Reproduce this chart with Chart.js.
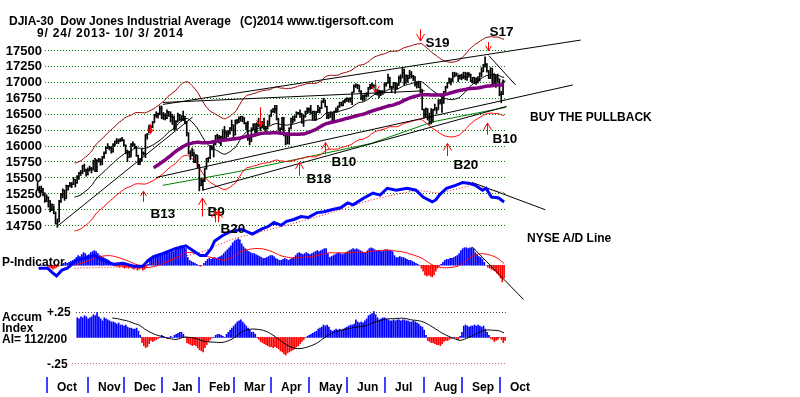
<!DOCTYPE html>
<html lang="en">

<head>
    <meta charset="UTF-8">
    <title>DJIA-30 Dow Jones Industrial Average</title>
    <script src="https://cdn.jsdelivr.net/npm/chart.js"></script>
    <style>
        body {
            margin: 0;
            background: #fff;
        }

        #wrap {
            position: relative;
            width: 800px;
            height: 397px;
            overflow: hidden;
            font-family: "Liberation Sans", Arial, sans-serif;
            font-weight: bold;
            color: #000;
        }

        #chart {
            position: absolute;
            left: 0;
            top: 0;
        }

        .t {
            position: absolute;
            white-space: pre;
            font-size: 12px;
            line-height: 12px;
        }
    </style>
</head>

<body>
    <div id="wrap">
        <canvas id="chart" width="800" height="397"></canvas>
        <div class="t" style="left:9px;top:15px">DJIA-30  Dow Jones Industrial Average</div>
        <div class="t" style="left:240px;top:15px">(C)2014 www.tigersoft.com</div>
        <div class="t" style="left:37px;top:27px;letter-spacing:0.8px">9/ 24/ 2013- 10/ 3/ 2014</div>
        <div class="t" style="left:530px;top:111px">BUY THE PULLBACK</div>
        <div class="t" style="left:527px;top:232px">NYSE A/D Line</div>
        <div class="t" style="left:2px;top:256px">P-Indicator</div>
        <div class="t" style="left:2px;top:311px">Accum</div>
        <div class="t" style="left:2px;top:322px">Index</div>
        <div class="t" style="left:2px;top:333px">AI= 112/200</div>
    </div>

    <script>
        // trading days 9/24/2013 .. 10/3/2014, index 0..259
        const monthNames = ["Oct", "Nov", "Dec", "Jan", "Feb", "Mar", "Apr", "May", "Jun", "Jul", "Aug", "Sep", "Oct"];
        const monthStart = [5, 28, 48, 69, 90, 109, 130, 151, 172, 193, 215, 236, 257];
        const priceTicks = [17500, 17250, 17000, 16750, 16500, 16250, 16000, 15750, 15500, 15250, 15000, 14750];

        const closes = [
            15334, 15273, 15329, 15258, 15130,
            15192, 15134, 14997, 15073, 14936, 14776, 14803, 15126, 15237, 15301, 15168, 15374, 15372, 15400, 15392, 15468, 15413, 15509, 15570, 15568, 15680, 15618, 15546,
            15616, 15639, 15618, 15747, 15594, 15762, 15784, 15751, 15822, 15876, 15962, 15976, 15968, 15900, 16010, 16065, 16073, 16073, 16097, 16086,
            16008, 15915, 15890, 15821, 16020, 16026, 15973, 15844, 15740, 15755, 15885, 15875, 16168, 16179, 16221, 16295, 16358, 16479, 16479, 16505, 16577,
            16441, 16470, 16425, 16531, 16463, 16445, 16437, 16257, 16374, 16482, 16418, 16459, 16415, 16374, 16198, 15879, 15838, 15929, 15739, 15849, 15699,
            15373, 15445, 15441, 15629, 15795, 15801, 15994, 15964, 16027, 16154, 16130, 16041, 16134, 16104, 16208, 16180, 16199, 16273, 16322,
            16168, 16396, 16361, 16422, 16453, 16419, 16351, 16340, 16109, 16066, 16247, 16337, 16223, 16331, 16303, 16276, 16368, 16268, 16264, 16324, 16458,
            16533, 16573, 16573, 16413, 16246, 16257, 16438, 16171, 16027, 16174, 16263, 16425, 16409, 16449, 16514, 16501, 16502, 16361, 16448, 16535, 16581,
            16559, 16513, 16531, 16402, 16518, 16551, 16584, 16696, 16715, 16614, 16447, 16492, 16511, 16375, 16533, 16544, 16607, 16676, 16634, 16699, 16717,
            16743, 16722, 16738, 16836, 16924, 16944, 16946, 16844, 16735, 16776, 16782, 16808, 16907, 16922, 16948, 16938, 16819, 16868, 16847, 16852, 16827,
            16956, 16976, 17068, 16924, 16906, 16985, 16915, 16944, 17055, 17061, 17139, 16977, 17100, 17052, 17114, 17087, 17083, 16961, 16983, 16913, 16880, 16563,
            16493, 16569, 16430, 16443, 16369, 16554, 16569, 16561, 16652, 16713, 16663, 16839, 16920, 16979, 17040, 17001, 17077, 17107, 17122, 17080, 17098,
            17068, 17079, 17070, 17138, 17112, 17014, 17068, 17050, 16988, 17031, 17132, 17157, 17266, 17280, 17173, 17056, 17210, 16946, 17113, 17071, 17043,
            16805, 16801, 17009
        ];
        const highs = [
            15425, 15360, 15365, 15330, 15250,
            15230, 15190, 15135, 15085, 15055, 14960, 14850, 15140, 15250, 15320, 15300, 15380, 15378, 15425, 15420, 15500, 15465, 15530, 15580, 15610, 15690, 15710, 15630,
            15650, 15680, 15660, 15770, 15800, 15780, 15800, 15790, 15830, 15900, 15980, 16030, 15990, 15980, 16030, 16070, 16110, 16100, 16110, 16130,
            16090, 16005, 15930, 15910, 16030, 16060, 16020, 15990, 15850, 15800, 15950, 15900, 16170, 16190, 16320, 16310, 16380, 16490, 16530, 16510, 16620,
            16620, 16520, 16500, 16560, 16530, 16530, 16490, 16460, 16390, 16510, 16490, 16470, 16540, 16460, 16370, 16200, 15920, 15960, 15900, 15860, 15840,
            15700, 15480, 15480, 15650, 15800, 15815, 16000, 15990, 16040, 16160, 16180, 16160, 16150, 16250, 16300, 16230, 16240, 16280, 16400,
            16320, 16400, 16410, 16450, 16460, 16460, 16440, 16360, 16380, 16160, 16280, 16340, 16340, 16360, 16430, 16330, 16380, 16430, 16300, 16390, 16480,
            16560, 16580, 16630, 16630, 16430, 16280, 16440, 16440, 16170, 16200, 16280, 16430, 16460, 16470, 16530, 16520, 16560, 16500, 16480, 16540, 16590,
            16590, 16630, 16540, 16540, 16540, 16630, 16600, 16700, 16740, 16710, 16610, 16500, 16530, 16510, 16540, 16590, 16620, 16680, 16680, 16700, 16730,
            16750, 16740, 16750, 16840, 16950, 16970, 16960, 16940, 16860, 16790, 16800, 16830, 16910, 16960, 16980, 16950, 16950, 16880, 16860, 16860, 16860,
            16980, 16990, 17120, 17070, 16930, 16990, 16980, 16980, 17090, 17110, 17220, 17200, 17110, 17100, 17180, 17160, 17100, 17070, 17000, 17010, 17000, 16870,
            16570, 16590, 16580, 16510, 16580, 16570, 16650, 16600, 16720, 16720, 16810, 16850, 16930, 16990, 17060, 17050, 17150, 17150, 17140, 17100, 17110,
            17120, 17150, 17150, 17140, 17140, 17120, 17070, 17060, 17060, 17080, 17140, 17220, 17270, 17390, 17280, 17170, 17220, 17200, 17130, 17090, 17120,
            17040, 16850, 17030
        ];
        const lows = [
            15310, 15260, 15270, 15210, 15110,
            15120, 15035, 14960, 14980, 14930, 14770, 14719, 14810, 15110, 15180, 15140, 15180, 15300, 15350, 15340, 15390, 15350, 15410, 15470, 15530, 15560, 15590, 15520,
            15540, 15600, 15570, 15620, 15590, 15590, 15740, 15690, 15700, 15800, 15880, 15950, 15930, 15880, 15900, 15990, 16030, 16030, 16060, 16070,
            15990, 15870, 15750, 15810, 15830, 15990, 15950, 15830, 15700, 15700, 15760, 15850, 15810, 16100, 16200, 16210, 16280, 16360, 16440, 16430, 16480,
            16420, 16410, 16400, 16420, 16460, 16370, 16330, 16240, 16260, 16370, 16390, 16380, 16390, 16340, 16150, 15870, 15780, 15840, 15730, 15740, 15650,
            15290, 15370, 15300, 15440, 15640, 15740, 15800, 15930, 15820, 16010, 16100, 16040, 16000, 16100, 16100, 16110, 16140, 16180, 16230,
            16110, 16170, 16340, 16360, 16380, 16370, 16340, 16250, 16080, 16010, 16070, 16250, 16150, 16200, 16300, 16230, 16280, 16250, 16190, 16260, 16330,
            16460, 16520, 16510, 16400, 16240, 16170, 16250, 16150, 16010, 16030, 16020, 16270, 16350, 16380, 16440, 16490, 16440, 16350, 16300, 16450, 16500,
            16510, 16490, 16400, 16400, 16400, 16520, 16510, 16580, 16670, 16600, 16420, 16420, 16440, 16360, 16380, 16520, 16530, 16600, 16620, 16620, 16670,
            16690, 16680, 16680, 16640, 16840, 16910, 16890, 16840, 16720, 16700, 16710, 16760, 16770, 16880, 16890, 16910, 16800, 16790, 16750, 16780, 16800,
            16830, 16930, 16980, 16900, 16830, 16910, 16820, 16880, 16950, 16990, 17070, 16950, 16980, 16990, 17060, 17060, 17020, 16930, 16900, 16910, 16830, 16560,
            16430, 16450, 16400, 16330, 16340, 16380, 16560, 16500, 16570, 16660, 16520, 16670, 16840, 16900, 16980, 16950, 17010, 17080, 17090, 17000, 17040,
            17030, 17050, 17030, 17020, 17070, 17000, 16980, 16970, 16960, 16980, 17010, 17080, 17160, 17230, 17150, 17050, 17050, 16940, 16940, 16910, 16990,
            16780, 16670, 16800
        ];

        // 200-day average
        const ma200Days = [69, 108, 152, 185, 219, 260];
        const ma200Vals = [15376, 15575, 15835, 16033, 16370, 16599];

        // NYSE A/D line (relative units) and its dotted average
        const adDays = [0, 5, 8, 10, 13, 16, 21, 25, 31, 36, 42, 47, 53, 58, 61, 64, 69, 76, 82, 86, 90, 93, 96, 98, 102, 106, 113, 119, 124, 128, 131, 135, 138, 142, 146, 150, 155, 159, 163, 168, 172, 175, 181, 186, 190, 194, 199, 205, 210, 214, 219, 221, 223, 227, 232, 236, 240, 243, 247, 249, 252, 256, 259];
        const adVals = [0, 0, -5, -8, -2, 0, 8, 10, 13, 8, 4, 5, 2, 2, 8, 12, 15, 20, 23, 18, 13, 13, 20, 28, 33, 37, 40, 35, 40, 43, 47, 44, 48, 50, 53, 52, 57, 58, 60, 62, 67, 65, 72, 77, 75, 82, 80, 82, 80, 73, 68, 70, 75, 82, 85, 88, 87, 85, 80, 82, 73, 72, 68];
        const adMaDays = [20, 58, 69, 90, 108, 144, 163, 185, 210, 223, 241, 260];
        const adMaVals = [0, 2, 7, 16, 30, 47, 57, 70, 80, 77, 85, 77];

        const pIndicator = [
            0, 0, 0, 0, 0, -10, -20, -30, -40, -30, -20, -10, 0, 10, 20, 30, 20, 30, 40, 50,
            60, 80, 100, 90, 110, 130, 120, 100, 110, 130,
            140, 150, 140, 120, 100, 90, 80, 70, 60, 50,
            30, 10, 0, -10, -10, -20, -10, -20, -30, -20,
            -30, -20, -30, -40, -30, -50, -40, -30, -50, -40,
            -20, 10, 50, 60, 80, 90, 100, 110, 120, 110,
            120, 130, 140, 130, 150, 140, 150, 160, 170, 200,
            180, 190, 170, 80, 50, 40, 30, 20, 10, 0,
            -10, 0, 20, 40, 60, 70, 60, 70, 80, 70,
            80, 90, 100, 120, 140, 160, 180, 200, 230, 250,
            260, 270, 260, 220, 190, 170, 150, 140, 130, 120,
            120, 110, 100, 90, 80, 70, 70, 80, 90, 100,
            100, 90, 70, 60, 50, 50, 60, 70, 60, 50,
            60, 70, 80, 100, 120, 130, 120, 110, 120, 130,
            120, 110, 120, 130, 140, 150, 140, 150, 160, 170,
            170, 120, 80, 90, 100, 110, 120, 130, 120, 110,
            120, 130, 140, 150, 160, 170, 160, 170, 160, 150,
            140, 130, 130, 150, 170, 180, 170, 160, 150, 150,
            150, 140, 150, 160, 160, 150, 150, 140, 100, 80,
            80, 90, 80, 80, 70, 60, 50, 50, 40, 30,
            20, 10, 0, -30, -60, -100, -110, -100, -110, -120,
            -100, -60, -30, -10, 10, 30, 50, 60, 60, 70,
            70, 80, 90, 100, 120, 150, 170, 180, 180, 170,
            180, 180, 170, 130, 110, 90, 80, 60, 30, 0,
            -20, -30, -40, -50, -60, -80, -100, -130, -170, -130
        ];

        // accumulation index in hundredths (+25 = +.25)
        const accum = [
            null, null, null, null, null, null, null, null, null, null, null, null, null, null, null, null, null, null, null, null, null,
            19, 18, 20, 19, 21, 20, 18, 19, 20, 22,
            21, 24, 20, 18, 16, 19, 18, 17, 16, 15,
            15, 14, 13, 14, 12, 12, 11, 12, 10, 9,
            9, 8, 8, 9, 6, 2, -5, -8, -10, -9,
            -6, -3, -4, -3, -2, -1, 0, 2, 1, 0,
            -1, 0, 1, 0, 2, 3, 4, 5, 5, 3,
            0, -5, -6, -7, -8, -7, -8, -10, -12, -13,
            -14, -10, -7, -4, -2, 0, 0, 2, 3, 3,
            2, 1, 0, 3, 5, 7, 9, 11, 13, 15,
            16, 17, 15, 13, 11, 9, 7, 5, 5, 3,
            0, -2, -4, -5, -6, -7, -8, -9, -9, -10,
            -9, -10, -11, -13, -14, -16, -17, -15, -14, -13,
            -12, -11, -9, -8, -6, -4, -2, 0, 1, 2,
            3, 4, 5, 6, 8, 9, 10, 12, 11, 12,
            10, 7, 6, 7, 8, 7, 8, 7, 8, 9,
            10, 11, 12, 12, 13, 17, 15, 14, 15, 14,
            16, 18, 21, 22, 23, 25, 22, 19, 17, 18,
            19, 19, 18, 17, 16, 16, 17, 16, 17, 17,
            16, 17, 17, 16, 16, 15, 15, 16, 15, 14,
            13, 11, 10, 7, 2, -3, -4, -5, -5, -6,
            -7, -7, -8, -6, -4, -3, -3, -2, -1, 0,
            0, -1, -2, 1, 5, 11, 12, 11, 10, 11,
            11, 12, 11, 12, 11, 10, 11, 8, 5, 2,
            -1, -2, -4, -3, -2, 0, -2, -5, -3
        ];

        // trend lines: [day1, price1, day2, price2]
        const priceLines = [
            [69.2, 16645, 301.6, 17653],
            [69.2, 16675, 214.8, 16858],
            [10.4, 14735, 85.7, 16446],
            [91.2, 15300, 260.4, 16614],
            [65.4, 15499, 297.3, 16950],
            [250.5, 17409, 265.4, 16950]
        ];
        const adTrend = [241.2, 88, 281.9, 60];
        const pTrend = [241.2, 190, 269.8, -350];

        // signals: name, day, arrow tail price, arrow head price
        const sigNames = ["B13", "B9", "", "B20", "B18", "B10", "B20", "B10", "S19", "S17", "", "", ""];
        const sigDays = [58, 91, 98, 100, 145, 159.3, 227, 249.5, 212, 250, 62, 123, 187.4];
        const sigFrom = [15117, 14888, 14796, 14796, 15529, 15865, 15835, 16171, 17821, 17622, 16339, 16599, 17027];
        const sigTo = [15285, 15178, 14979, 14979, 15743, 16049, 16033, 16354, 17638, 17485, 16186, 16293, 16828];
        const sigLabelOffset = [[7, 11], [5, -5], [0, 0], [2, 6], [7, 3], [6, 7], [6, 8], [5, 4], [5, 13], [1, -11], [0, 0], [0, 0], [0, 0]];

        const BLUE = "#0000ff";
        const RED = "#ff0000";
        const FONT = '"Liberation Sans", Arial, sans-serif';

        function sma(values, n) {
            const out = [];
            for (let i = 0; i < values.length; i++) {
                let sum = 0, ok = i >= n - 1;
                for (let k = i - n + 1; ok && k <= i; k++) {
                    if (values[k] == null) ok = false;
                    else sum += values[k];
                }
                out.push(ok ? sum / n : null);
            }
            return out;
        }

        const daily = arr => arr.map((v, i) => ({ x: i, y: v }));
        const sparse = (ds, vs) => ds.map((d, i) => ({ x: d, y: vs[i] }));

        const ma21 = sma(closes, 21);
        const ma65 = sma(closes, 65);
        const upperBand = ma21.map(v => v == null ? null : v * 1.035);
        const lowerBand = ma21.map(v => v == null ? null : v * 0.965);
        const pMa = sma(pIndicator, 21);
        const accumMa = sma(accum, 21);

        function line(data, color, width, axis, order, dash) {
            return {
                type: "line", data: data, borderColor: color, borderWidth: width,
                borderDash: dash || [], pointRadius: 0, fill: false, tension: 0,
                yAxisID: axis, order: order
            };
        }

        const datasets = [
            {
                type: "bar", label: "P-Indicator", data: daily(pIndicator), yAxisID: "yp",
                backgroundColor: pIndicator.map(v => v < 0 ? RED : BLUE), barThickness: 1, order: 20
            },
            {
                type: "bar", label: "Accum", data: daily(accum), yAxisID: "ya",
                backgroundColor: accum.map(v => v < 0 ? RED : BLUE), barThickness: 1, order: 20
            },
            line(daily(pMa), RED, 1, "yp", 19),
            line(daily(accumMa), "#000", 1, "ya", 19),
            line(sparse([pTrend[0], pTrend[2]], [pTrend[1], pTrend[3]]), "#000", 1, "yp", 19),
            line(sparse(adMaDays, adMaVals), RED, 1, "yad", 18, [1, 2]),
            line(sparse(adDays, adVals), BLUE, 3, "yad", 17),
            line(sparse([adTrend[0], adTrend[2]], [adTrend[1], adTrend[3]]), "#000", 1, "yad", 17),
            line(daily(upperBand), "#990000", 1, "y", 16),
            line(daily(lowerBand), RED, 1, "y", 16),
            line(sparse(ma200Days, ma200Vals), "#008000", 1, "y", 16),
            ...priceLines.map(l => line(sparse([l[0], l[2]], [l[1], l[3]]), "#000", 1, "y", 15)),
            line(daily(ma21), "#000", 1, "y", 14),
            {
                type: "bar", label: "DJIA", data: closes.map((c, i) => ({ x: i, y: [lows[i], highs[i]] })),
                yAxisID: "y", backgroundColor: "#000", barThickness: 1, order: 12
            },
            {
                type: "line", label: "Close", data: daily(closes), yAxisID: "y", showLine: false,
                pointStyle: "line", pointRadius: 1.5, borderColor: "#000", borderWidth: 1, order: 12
            },
            line(daily(ma65), "#800080", 3.5, "y", 10)
        ];

        function arrow(ctx, x, y1, y2) {
            const dir = y2 > y1 ? 1 : -1;
            const len = Math.abs(y2 - y1);
            const w = len > 11 ? 4 : 3, h = len > 11 ? 7 : 5;
            ctx.beginPath();
            ctx.moveTo(x, y1);
            ctx.lineTo(x, y2);
            ctx.moveTo(x - w, y2 - dir * h);
            ctx.lineTo(x, y2);
            ctx.lineTo(x + w, y2 - dir * h);
            ctx.stroke();
        }

        const decorations = {
            id: "decorations",
            beforeDatasetsDraw(chart) {
                const { ctx, scales } = chart;
                const x = scales.x, y = scales.y, ya = scales.ya;
                const right = x.getPixelForValue(260);
                ctx.save();
                ctx.lineWidth = 1;
                ctx.setLineDash([1, 2]);
                ctx.strokeStyle = "#008000";
                priceTicks.forEach(v => {
                    const py = Math.round(y.getPixelForValue(v)) + 0.5;
                    ctx.beginPath();
                    ctx.moveTo(45, py);
                    ctx.lineTo(right, py);
                    ctx.stroke();
                });
                ctx.strokeStyle = "#404040";
                let py = Math.round(ya.getPixelForValue(25)) + 0.5;
                ctx.beginPath(); ctx.moveTo(76, py); ctx.lineTo(right, py); ctx.stroke();
                ctx.strokeStyle = "#c07070";
                py = Math.round(ya.getPixelForValue(-25)) + 0.5;
                ctx.beginPath(); ctx.moveTo(72, py); ctx.lineTo(right, py); ctx.stroke();
                ctx.setLineDash([]);
                ctx.strokeStyle = BLUE;
                ctx.lineWidth = 1.5;
                monthStart.forEach(i => {
                    const px = Math.round(x.getPixelForValue(i - 0.5));
                    ctx.beginPath();
                    ctx.moveTo(px, 377);
                    ctx.lineTo(px, 393);
                    ctx.stroke();
                });
                ctx.restore();
            },
            afterDatasetsDraw(chart) {
                const { ctx, scales } = chart;
                const x = scales.x, y = scales.y, ya = scales.ya;
                ctx.save();
                ctx.fillStyle = "#000";
                ctx.font = "bold 13px " + FONT;
                ctx.textAlign = "right";
                priceTicks.forEach(v => ctx.fillText(String(v), 42, y.getPixelForValue(v) + 4.7));
                ctx.textAlign = "left";
                ctx.font = "bold 12px " + FONT;
                ctx.fillText("+.25", 47, ya.getPixelForValue(25) + 4.3);
                ctx.fillText("-.25", 47, ya.getPixelForValue(-25) + 4.3);
                monthNames.forEach((m, k) => {
                    const px = Math.round(x.getPixelForValue(monthStart[k] - 0.5));
                    ctx.fillText(m, px + 10, 391);
                });
                ctx.strokeStyle = RED;
                ctx.lineWidth = 1;
                ctx.font = "bold 13.5px " + FONT;
                sigDays.forEach((d, k) => {
                    const px = Math.round(x.getPixelForValue(d)) + 0.5;
                    const y1 = y.getPixelForValue(sigFrom[k]);
                    const y2 = y.getPixelForValue(sigTo[k]);
                    arrow(ctx, px, y1, y2);
                    if (sigNames[k]) {
                        const off = sigLabelOffset[k];
                        ctx.fillText(sigNames[k], px + off[0], y1 + off[1] + 4.8);
                    }
                });
                ctx.restore();
            }
        };

        const ctx = document.getElementById("chart").getContext("2d");
        new Chart(ctx, {
            type: "line",
            data: { datasets: datasets },
            options: {
                responsive: false,
                animation: false,
                events: [],
                layout: { padding: 0 },
                plugins: { legend: { display: false }, tooltip: { enabled: false } },
                scales: {
                    x: { type: "linear", display: false, min: -18.681, max: 420.879, offset: false },
                    y: { type: "linear", display: false, min: 12137, max: 18203 },
                    yad: { type: "linear", display: false, min: -127, max: 270 },
                    yp: { type: "linear", display: false, min: -1300, max: 2670 },
                    ya: { type: "linear", display: false, min: -52.83, max: 321.7 }
                }
            },
            plugins: [decorations]
        });
    </script>
</body>

</html>
